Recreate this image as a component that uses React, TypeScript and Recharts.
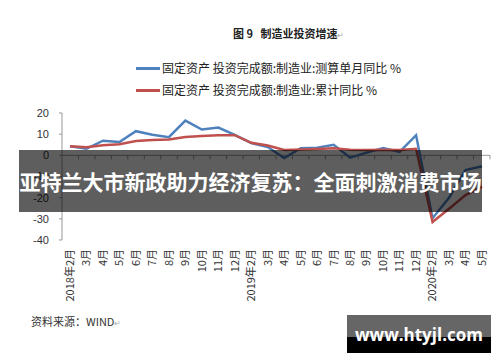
import { LineChart, Line, XAxis, YAxis, ReferenceLine } from "recharts";

const categories = [
  "2018年2月", "3月", "4月", "5月", "6月", "7月", "8月", "9月", "10月", "11月", "12月",
  "2019年2月", "3月", "4月", "5月", "6月", "7月", "8月", "9月", "10月", "11月", "12月",
  "2020年2月", "3月", "4月", "5月",
];

// 固定资产投资完成额:制造业:测算单月同比
const monthlyYoY = [
  4.3, 3.1, 6.9, 6.3, 11.4, 9.7, 8.6, 16.4, 12.2, 13.1, 9.7,
  5.8, 3.9, -1.3, 3.4, 3.6, 5.0, -1.1, 1.3, 3.4, 1.6, 9.5,
  -29.7, -20.0, -7.0, -5.2,
];

// 固定资产投资完成额:制造业:累计同比
const cumulativeYoY = [
  4.3, 3.8, 4.8, 5.2, 6.8, 7.3, 7.5, 8.7, 9.1, 9.5, 9.5,
  5.9, 4.6, 2.5, 2.7, 3.0, 3.3, 2.6, 2.5, 2.6, 2.5, 3.1,
  -31.5, -25.2, -18.8, -14.8,
];

const yTicks = [-40, -30, -20, -10, 0, 10, 20];

const BLUE = "#4F81BD";
const RED = "#C0504D";
const CJK = "'Noto Sans CJK SC', 'Noto Sans', sans-serif";

const data = categories.map((name, i) => ({
  name,
  monthly: monthlyYoY[i],
  cumulative: cumulativeYoY[i],
}));

// zero line doubles as the category axis, with small ticks between months
const ZeroAxis = (props: any) => {
  const { x1, y1, x2 } = props;
  const n = categories.length;
  const step = (x2 - x1) / n;
  const marks = [];
  for (let i = 1; i <= n; i++) {
    marks.push(
      <line key={i} x1={x1 + i * step} y1={y1} x2={x1 + i * step} y2={y1 + 4} stroke="#999" strokeWidth={1} />
    );
  }
  return (
    <g>
      <line x1={x1} y1={y1} x2={x2} y2={y1} stroke="#999" strokeWidth={1} />
      {marks}
    </g>
  );
};

const MonthTick = (props: any) => {
  const { x, y, payload } = props;
  return (
    <text
      x={x}
      y={y}
      dy="0.35em"
      transform={`rotate(-90, ${x}, ${y})`}
      textAnchor="end"
      fontSize={11}
      fontFamily={CJK}
      fill="#333"
    >
      {payload.value}
    </text>
  );
};

export default function App() {
  return (
    <div style={{ position: "absolute", left: 0, top: 0, width: 500, height: 362, background: "#fff", overflow: "hidden", fontFamily: CJK }}>
      <div style={{ position: "absolute", left: 233, top: 26, fontSize: 11, fontWeight: 700, color: "#222", whiteSpace: "nowrap", lineHeight: "14px" }}>
        图 9&nbsp;&nbsp;&nbsp;制造业投资增速<span style={{ color: "#aaa", fontWeight: 400, fontSize: 8 }}>↵</span>
      </div>

      <div style={{ position: "absolute", left: 136, top: 60, fontSize: 12, color: "#222", lineHeight: "16px" }}>
        <div style={{ display: "flex", alignItems: "center", whiteSpace: "nowrap" }}>
          <span style={{ display: "inline-block", width: 24, height: 3, background: BLUE, marginRight: 2 }} />
          固定资产 投资完成额:制造业:测算单月同比 %
        </div>
        <div style={{ display: "flex", alignItems: "center", whiteSpace: "nowrap", marginTop: 6 }}>
          <span style={{ display: "inline-block", width: 24, height: 3, background: RED, marginRight: 2 }} />
          固定资产 投资完成额:制造业:累计同比 %
        </div>
      </div>

      <div style={{ position: "absolute", left: 0, top: 0 }}>
        <LineChart width={500} height={362} data={data} margin={{ top: 113, right: 10, bottom: 62, left: 0 }}>
          <XAxis
            dataKey="name"
            interval={0}
            height={60}
            padding={{ left: 8, right: 8 }}
            axisLine={false}
            tickLine={false}
            tickSize={0}
            tickMargin={9}
            tick={<MonthTick />}
          />
          <YAxis
            width={62}
            domain={[-40, 20]}
            ticks={yTicks}
            interval={0}
            axisLine={{ stroke: "#999" }}
            tickLine={{ stroke: "#999" }}
            tickSize={3}
            tickMargin={10}
            tick={{ fontSize: 11, fill: "#333", fontFamily: "'Liberation Sans', Arial, sans-serif" }}
          />
          <ReferenceLine y={0} shape={ZeroAxis} />
          <Line type="linear" dataKey="monthly" stroke={BLUE} strokeWidth={2.5} dot={false} isAnimationActive={false} />
          <Line type="linear" dataKey="cumulative" stroke={RED} strokeWidth={2.5} dot={false} isAnimationActive={false} />
        </LineChart>
      </div>

      <div style={{ position: "absolute", left: 31, top: 314, fontSize: 11, color: "#333", whiteSpace: "nowrap", lineHeight: "14px" }}>
        资料来源：WIND<span style={{ color: "#aaa", fontSize: 8 }}>↵</span>
      </div>

      <div
        style={{
          position: "absolute",
          left: 19,
          top: 150,
          width: 463,
          height: 62,
          background: "rgba(0,0,0,0.63)",
          color: "#fff",
          fontSize: 21,
          fontWeight: 700,
          display: "flex",
          alignItems: "center",
          justifyContent: "center",
          whiteSpace: "nowrap",
        }}
      >
        亚特兰大市新政助力经济复苏：全面刺激消费市场
      </div>

      <div
        style={{
          position: "absolute",
          left: 347,
          top: 315,
          width: 144,
          height: 38,
          background: "linear-gradient(#666 0, #666 57%, #000 57%, #000 100%)",
          color: "#fff",
          fontSize: 17,
          fontWeight: 700,
          fontFamily: "'Open Sans', sans-serif",
          display: "flex",
          alignItems: "center",
          justifyContent: "center",
          whiteSpace: "nowrap",
        }}
      >
        www.htyjl.com
      </div>
    </div>
  );
}
